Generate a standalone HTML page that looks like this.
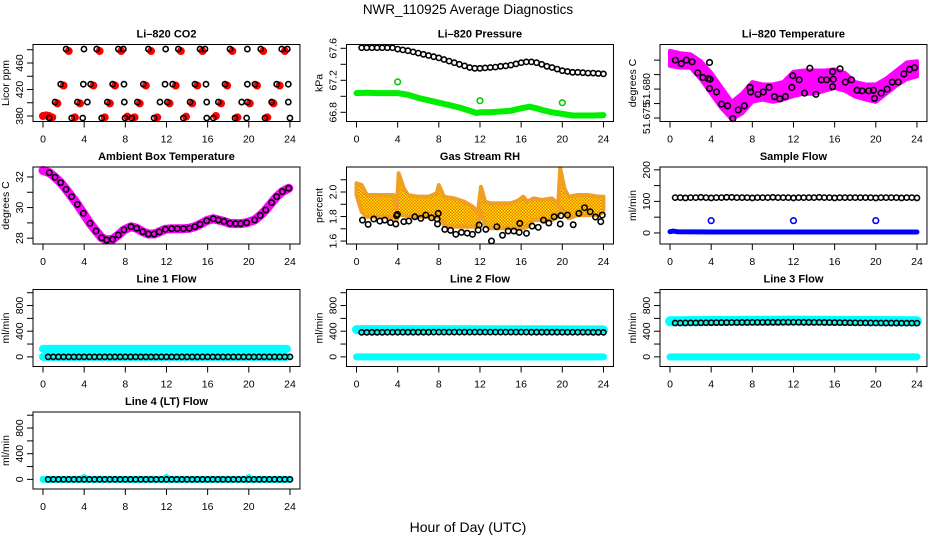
<!DOCTYPE html>
<html><head><meta charset="utf-8">
<style>
html,body{margin:0;padding:0;background:#fff;}
svg{display:block;font-family:"Liberation Sans",Arial,sans-serif;}
</style></head>
<body>
<svg id="chart" width="936" height="540" viewBox="0 0 936 540" xmlns="http://www.w3.org/2000/svg">
<defs>
<pattern id="rhpat" width="3" height="3" patternUnits="userSpaceOnUse">
<rect width="3" height="3" fill="#f07800"/>
<rect x="0" y="0" width="1.5" height="1.5" fill="#ffee00"/>
<rect x="1.5" y="1.5" width="1.5" height="1.5" fill="#ffe000"/>
</pattern>
</defs>
<text x="468" y="14" text-anchor="middle" font-size="13.5">NWR_110925  Average Diagnostics</text>
<text x="468" y="532" text-anchor="middle" font-size="14">Hour of Day (UTC)</text>
</svg>
<script>
// ---------------- data ----------------
const co2BlackH = [2.24,3.98,5.22,7.32,7.81,10.24,11.92,13.15,15.26,15.74,18.17,19.86,21.16,23.2,23.74,
  1.72,3.92,4.63,6.77,7.87,9.75,11.86,12.60,14.77,15.84,17.69,19.86,20.6,22.71,23.84,
  1.17,3.34,4.31,6.25,7.90,9.17,11.37,12.08,14.29,15.91,17.04,19.31,19.86,22.22,23.84,
  0.61,2.79,3.86,5.70,7.97,8.62,10.79,13.64,15.91,16.55,18.66,19.79,21.57,24.0];
const co2BlackV = [481,481,481,481,481,481,481,481,481,481,481,481,481,481,481,
  428,428,428,428,428,428,428,428,428,428,428,428,428,428,428,
  401,401,401,401,401,401,401,401,401,401,401,401,401,401,401,
  377,377,377,377,377,377,377,377,377,377,377,377,377,377];
const co2RedH = [2.5,5.5,7.6,10.5,13.4,15.5,18.4,21.4,23.5,
  2.0,4.9,7.0,10.0,12.9,15.0,17.9,20.8,23.0,
  1.4,3.6,6.5,9.4,12.3,14.5,17.3,20.1,22.4,
  0.0,0.3,0.6,0.9,3.1,6.0,8.2,8.9,11.1,13.9,16.8,18.9,21.8];
const co2RedV = [478,478,478,478,478,478,478,478,478,
  426,426,426,426,426,426,426,426,426,
  399,399,399,399,399,399,399,399,399,
  380,381,380,378,378,378,379,378,378,379,380,378,378];

const presHours = [0.5,1,1.5,2,2.5,3,3.5,4,4.5,5,5.5,6,6.5,7,7.5,8,8.5,9,9.5,10,10.5,11,11.5,12,12.5,13,13.5,14,14.5,15,15.5,16,16.5,17,17.5,18,18.5,19,19.5,20,20.5,21,21.5,22,22.5,23,23.5,24];
const presBlack = [67.607,67.607,67.607,67.607,67.607,67.607,67.607,67.59,67.58,67.57,67.555,67.54,67.525,67.51,67.495,67.48,67.46,67.44,67.42,67.40,67.38,67.36,67.35,67.35,67.355,67.36,67.365,67.375,67.38,67.39,67.405,67.42,67.43,67.43,67.42,67.40,67.375,67.36,67.34,67.32,67.31,67.30,67.30,67.295,67.29,67.29,67.285,67.28];
const presGreenH = [0,1,2,3,4,5,6,7,8,9,10,11,11.7,12,13,14,15,16,16.8,17.5,18,19,20,21,22,23,24];
const presGreenV = [67.04,67.045,67.04,67.04,67.04,67.02,66.98,66.95,66.92,66.89,66.86,66.82,66.79,66.80,66.80,66.81,66.82,66.85,66.87,66.85,66.83,66.80,66.78,66.76,66.76,66.76,66.765];
const presOutH = [4,12,20];
const presOutV = [67.18,66.945,66.92];

const tempBlackH = [0.52,1.10,1.59,2.15,2.70,3.19,3.71,3.84,3.90,3.84,4.52,5.01,5.59,6.11,6.63,7.22,7.77,7.84,8.56,9.07,9.63,10.15,10.67,11.22,11.84,11.93,12.55,13.07,13.59,14.18,14.70,15.22,15.80,15.80,15.87,16.52,17.04,17.63,18.18,18.67,19.32,19.77,19.87,20.52,21.1,21.59,22.18,22.73,23.28,23.77];
const tempBlackV = [51.6850,51.6844,51.6850,51.6847,51.6828,51.6820,51.6818,51.6846,51.6817,51.6801,51.6795,51.6774,51.6771,51.6749,51.6764,51.6771,51.6803,51.6795,51.6791,51.6795,51.6803,51.6787,51.6783,51.6787,51.6803,51.6823,51.6816,51.6793,51.6836,51.6791,51.6816,51.6816,51.6830,51.6804,51.6817,51.6835,51.6812,51.6816,51.6798,51.6797,51.6797,51.6798,51.6784,51.6793,51.6800,51.6812,51.6812,51.6826,51.6834,51.6837];
const tempBandH = [0,1,2,3,4,5,6,7,8,9,10,11,12,13,14,15,16,17,18,19,20,21,22,23,24];
const tempBandHi = [51.6866,51.6862,51.6860,51.6848,51.6828,51.6803,51.6778,51.6792,51.6812,51.6808,51.6808,51.6812,51.6830,51.6832,51.6832,51.6832,51.6834,51.6828,51.6812,51.6808,51.6808,51.6818,51.6832,51.6846,51.6848];
const tempBandLo = [51.6840,51.6837,51.6837,51.6817,51.6792,51.6767,51.6748,51.6758,51.6778,51.6782,51.6778,51.6782,51.6788,51.6792,51.6792,51.6797,51.6802,51.6797,51.6787,51.6782,51.6778,51.6792,51.6806,51.6817,51.6822];

const ambH = [0.61,1.17,1.72,2.24,2.79,3.34,3.92,4.57,5.15,5.70,6.19,6.77,7.32,7.87,8.55,9.10,9.69,10.24,10.79,11.30,11.89,12.50,13.05,13.64,14.22,14.77,15.26,15.91,16.55,17.04,17.59,18.17,18.72,19.21,19.79,20.57,21.12,21.64,22.22,22.71,23.26,23.88];
const ambV = [32.28,31.98,31.63,31.19,30.71,30.21,29.63,28.97,28.47,28.03,27.88,27.93,28.21,28.54,28.75,28.65,28.42,28.27,28.27,28.41,28.58,28.62,28.62,28.62,28.65,28.75,28.91,29.14,29.27,29.19,29.10,28.97,28.95,28.95,29.01,29.19,29.49,29.84,30.32,30.71,31.04,31.26];
const ambMagH = [0,0.61,1.17,1.72,2.24,2.79,3.34,3.92,4.57,5.15,5.70,6.19,6.77,7.32,7.87,8.55,9.10,9.69,10.24,10.79,11.30,11.89,12.50,13.05,13.64,14.22,14.77,15.26,15.91,16.55,17.04,17.59,18.17,18.72,19.21,19.79,20.57,21.12,21.64,22.22,22.71,23.26,23.88];
const ambMagV = [32.42,32.28,31.98,31.63,31.19,30.71,30.21,29.63,28.97,28.47,28.03,27.88,27.93,28.21,28.54,28.75,28.65,28.42,28.27,28.27,28.41,28.58,28.62,28.62,28.62,28.65,28.75,28.91,29.14,29.27,29.19,29.10,28.97,28.95,28.95,29.01,29.19,29.49,29.84,30.32,30.71,31.04,31.26];

const rhBlackH = [0.58,1.13,1.68,2.27,2.75,3.30,3.82,3.89,3.98,4.60,5.08,5.67,6.25,6.74,7.29,7.84,7.87,7.94,8.58,9.14,9.65,10.20,10.76,11.27,11.82,11.92,12.57,13.12,13.64,14.19,14.74,15.29,15.81,15.87,16.52,17.07,17.66,18.17,18.69,19.21,19.80,19.86,20.5,21.06,21.61,22.16,22.71,23.23,23.74,23.88];
const rhBlackV = [1.771,1.736,1.780,1.763,1.771,1.750,1.739,1.807,1.818,1.758,1.763,1.798,1.785,1.812,1.790,1.780,1.739,1.826,1.695,1.687,1.655,1.671,1.665,1.655,1.690,1.731,1.695,1.600,1.717,1.647,1.682,1.682,1.671,1.744,1.663,1.722,1.712,1.771,1.747,1.798,1.739,1.807,1.812,1.733,1.826,1.872,1.839,1.796,1.758,1.812];
const rhBandH = [0,0.5,1,2,3,3.6,3.9,4.1,4.6,5,6,7,7.8,8,8.5,9.5,10.5,11.3,11.8,12.1,12.5,13,14,15,15.7,16.2,16.6,17.2,18,19,19.6,19.8,20.2,20.6,21.5,22.5,23.5,24];
const rhBandHi = [2.071,2.057,1.976,1.976,1.976,1.976,1.839,2.153,2.030,1.976,1.962,1.962,1.990,2.057,1.962,1.948,1.920,1.880,1.839,2.043,1.921,1.908,1.908,1.908,1.930,1.962,1.921,1.948,1.935,1.948,1.900,2.193,2.030,1.962,1.976,1.976,1.962,1.962];
const rhBandLo = [1.976,1.839,1.798,1.798,1.798,1.790,1.771,1.812,1.812,1.798,1.798,1.798,1.798,1.798,1.731,1.717,1.717,1.717,1.717,1.839,1.731,1.704,1.704,1.704,1.704,1.704,1.717,1.771,1.771,1.771,1.800,1.867,1.839,1.785,1.812,1.812,1.812,1.839];

const flowHours = [0.5,1,1.5,2,2.5,3,3.5,4,4.5,5,5.5,6,6.5,7,7.5,8,8.5,9,9.5,10,10.5,11,11.5,12,12.5,13,13.5,14,14.5,15,15.5,16,16.5,17,17.5,18,18.5,19,19.5,20,20.5,21,21.5,22,22.5,23,23.5,24];
const sampleBlack = [112,112,111,112,112,113,112,111,112,112,113,113,112,112,112,111,112,112,112,113,112,112,112,111,112,112,112,112,113,112,112,111,112,112,112,112,112,112,112,111,112,112,112,112,111,112,112,111];
const sampleBlueH = [0,0.3,0.7,4,8,12,16,20,24];
const sampleBlueV = [4,6,4,3,3,3,3,3,3];
const sampleOutH = [4,12,20];
const sampleOutV = [39,39,39];
const line1Black = [0,0,0,0,0,0,0,0,0,0,0,0,0,0,0,0,0,0,0,0,0,0,0,0,0,0,0,0,0,0,0,0,0,0,0,0,0,0,0,0,0,0,0,0,0,0,0,0];
const line2Black = [382,382,383,383,383,384,384,385,385,385,385,385,385,385,386,386,386,386,386,386,386,386,386,386,386,386,386,386,386,386,386,386,386,385,385,385,385,385,385,384,384,384,384,384,384,383,383,382];
const line3Black = [528,528,529,530,530,531,532,533,534,535,535,536,536,537,537,538,538,538,539,539,539,540,540,540,540,539,539,538,538,537,536,535,534,533,532,531,530,530,529,528,528,527,527,527,526,526,526,526];
const line4Black = [0,0,0,0,0,0,0,0,0,0,0,0,0,0,0,0,0,0,0,0,0,0,0,0,0,0,0,0,0,0,0,0,0,0,0,0,0,0,0,0,0,0,0,0,0,0,0,0];
const line1CyanH = [0,23.7];
const line1CyanHi = [125,125];
const line1CyanLo = [0,0];
const line2CyanH = [0,24];
const line2CyanHi = [425,420];
const line2CyanLo = [0,0];
const line3CyanH = [0,12,24];
const line3CyanHi = [555,565,555];
const line3CyanLo = [0,0,0];
const line4CyanH = [0,24];
const line4CyanV = [0,0];
const line4OutH = [4,12,20];
const line4OutV = [25,25,25];

// ---------------- drawing ----------------
const NS = 'http://www.w3.org/2000/svg';
const svg = document.getElementById('chart');
const PXH = 10.29, BOXH = 77;
function mk(tag, attrs, parent){
  const e = document.createElementNS(NS, tag);
  for (const k in attrs) e.setAttribute(k, attrs[k]);
  (parent||svg).appendChild(e);
  return e;
}
function panel(col, row, name, title, ylab, ymin, ymax, ticks, labels){
  const x0 = 43 + 313.5*col;
  const top = 44.5 + 122.5*row, bot = top + BOXH;
  const left = x0 - 10, right = x0 + 24*PXH + 10;
  const g = mk('g', {});
  
  
  const sx = h => x0 + h*PXH;
  const sy = v => top + (ymax - v)/(ymax - ymin)*BOXH;
  const t = mk('text', {x:(left+right)/2, y:top-7, 'text-anchor':'middle', 'font-size':11, 'font-weight':'bold'}, g);
  t.textContent = title;
  
  
  const plot = mk('g', {}, g);
  
  
  const xa = mk('g', {stroke:'#000','stroke-width':1}, g);
  
  
  mk('line', {x1:sx(0), x2:sx(24), y1:bot, y2:bot}, xa);
  [0,4,8,12,16,20,24].forEach(h=>{
    mk('line', {x1:sx(h), x2:sx(h), y1:bot, y2:bot+6}, xa);
    const l = mk('text', {x:sx(h), y:bot+21, 'text-anchor':'middle', 'font-size':10.5, stroke:'none'}, g);
    l.textContent = String(h);
    
    
  });
  const ya = mk('g', {stroke:'#000','stroke-width':1}, g);
  
  
  mk('line', {x1:left, x2:left, y1:sy(ticks[0]), y2:sy(ticks[ticks.length-1])}, ya);
  ticks.forEach((v,i)=>{
    mk('line', {x1:left-6, x2:left, y1:sy(v), y2:sy(v)}, ya);
    if (labels[i]){
      const l = mk('text', {x:0, y:0, 'text-anchor':'middle', 'font-size':10.5, stroke:'none',
        transform:`translate(${left-10},${sy(v)}) rotate(-90)`}, g);
      l.textContent = labels[i];
      
      
    }
  });
  const yl = mk('text', {x:0, y:0, 'text-anchor':'middle', 'font-size':10.5,
    transform:`translate(${left-24},${(top+bot)/2}) rotate(-90)`}, g);
  yl.textContent = ylab;
  
  
  mk('rect', {x:left, y:top, width:right-left, height:BOXH, fill:'none', stroke:'#000', 'stroke-width':1}, g);
  return {sx, sy, plot};
}
function circles(p, hs, vs, color, filled, r, nm){
  const g = mk('g', {}, p.plot);
  
  
  hs.forEach((h,i)=>{
    const c = mk('circle', {cx:p.sx(h), cy:p.sy(vs[i]), r:r,
      fill: filled ? color : 'none', stroke: color, 'stroke-width': filled ? 0.8 : 1.6}, g);
    
    
  });
}
function thick(p, hs, vs, color, w, nm){
  const pts = hs.map((h,i)=>p.sx(h)+','+p.sy(vs[i])).join(' ');
  const e = mk('polyline', {points:pts, fill:'none', stroke:color, 'stroke-width':w, 'stroke-linejoin':'round', 'stroke-linecap':'round'}, p.plot);
  
  
}
function band(p, hs, hi, lo, fill, stroke, w, nm){
  const up = hs.map((h,i)=>p.sx(h)+','+p.sy(hi[i]));
  const dn = hs.map((h,i)=>p.sx(h)+','+p.sy(lo[i])).reverse();
  const e = mk('polygon', {points:up.concat(dn).join(' '), fill:fill, stroke:stroke, 'stroke-width':w, 'stroke-linejoin':'round'}, p.plot);
  
  
}

let p = panel(0,0,'co2','Li\u2013820 CO2','Licor ppm',371.7,487.9,[380,400,420,440,460,480],['380','','420','','460','']);
circles(p, co2RedH, co2RedV, '#ff0000', true, 3.6, 'co2-red');
circles(p, co2BlackH, co2BlackV, '#000', false, 2.6, 'co2-black');

p = panel(1,0,'pressure','Li\u2013820 Pressure','kPa',66.685,67.6475,[66.8,67.0,67.2,67.4,67.6],['66.8','','67.2','','67.6']);
thick(p, presGreenH, presGreenV, '#00ee00', 6, 'pressure-green-series');
circles(p, presOutH, presOutV, '#00cc00', false, 2.8, 'pressure-green-outlier');
circles(p, presHours, presBlack, '#000', false, 2.6, 'pressure-black');

p = panel(2,0,'li820-temp','Li\u2013820 Temperature','degrees C',51.6744,51.6877,[51.675,51.6775,51.68,51.6825,51.685],['51.675','','51.680','','']);
band(p, tempBandH, tempBandHi, tempBandLo, '#ff00ff', '#ff00ff', 4, 'temp-magenta-cloud');
circles(p, tempBlackH, tempBlackV, '#000', false, 2.8, 'temp-black');

p = panel(0,1,'ambient','Ambient Box Temperature','degrees C',27.62,32.65,[28,29,30,31,32],['28','','30','','32']);
thick(p, ambMagH, ambMagV, '#ff00ff', 9, 'ambient-magenta-series');
circles(p, ambH, ambV, '#000', false, 2.7, 'ambient-black');

p = panel(1,1,'rh','Gas Stream RH','percent',1.576,2.204,[1.6,1.7,1.8,1.9,2.0,2.1],['1.6','','1.8','','2.0','']);
band(p, rhBandH, rhBandHi, rhBandLo, 'url(#rhpat)', '#f0a020', 4, 'rh-orange-cloud');
circles(p, rhBlackH, rhBlackV, '#000', false, 2.7, 'rh-black');

p = panel(2,1,'sample-flow','Sample Flow','ml/min',-35,209,[0,50,100,150,200],['0','','100','','200']);
thick(p, sampleBlueH, sampleBlueV, '#0000ff', 5, 'sample-blue-series');
circles(p, sampleOutH, sampleOutV, '#0000ff', false, 2.8, 'sample-blue-outlier');
circles(p, flowHours, sampleBlack, '#000', false, 2.6, 'sample-black');

const lt = [0,200,400,600,800,1000], ll = ['0','','400','','800',''];
p = panel(0,2,'line1','Line 1 Flow','ml/min',-150,1050,lt,ll);
thick(p, line1CyanH, line1CyanHi, '#00ffff', 8, 'line1-cyan-high');
thick(p, line1CyanH, line1CyanLo, '#00ffff', 8, 'line1-cyan-low');
circles(p, flowHours, line1Black, '#000', false, 2.6, 'line1-black');

p = panel(1,2,'line2','Line 2 Flow','ml/min',-150,1050,lt,ll);
thick(p, line2CyanH, line2CyanHi, '#00ffff', 9, 'line2-cyan-high');
thick(p, line2CyanH, line2CyanLo, '#00ffff', 7, 'line2-cyan-low');
circles(p, flowHours, line2Black, '#000', false, 2.6, 'line2-black');

p = panel(2,2,'line3','Line 3 Flow','ml/min',-150,1050,lt,ll);
thick(p, line3CyanH, line3CyanHi, '#00ffff', 10, 'line3-cyan-high');
thick(p, line3CyanH, line3CyanLo, '#00ffff', 7, 'line3-cyan-low');
circles(p, flowHours, line3Black, '#000', false, 2.6, 'line3-black');

p = panel(0,3,'line4','Line 4 (LT) Flow','ml/min',-150,1050,lt,ll);
thick(p, line4CyanH, line4CyanV, '#00ffff', 7, 'line4-cyan');
circles(p, line4OutH, line4OutV, '#00ffff', false, 3, 'line4-cyan-outlier');
circles(p, flowHours, line4Black, '#000', false, 2.6, 'line4-black');
</script>
</body></html>
